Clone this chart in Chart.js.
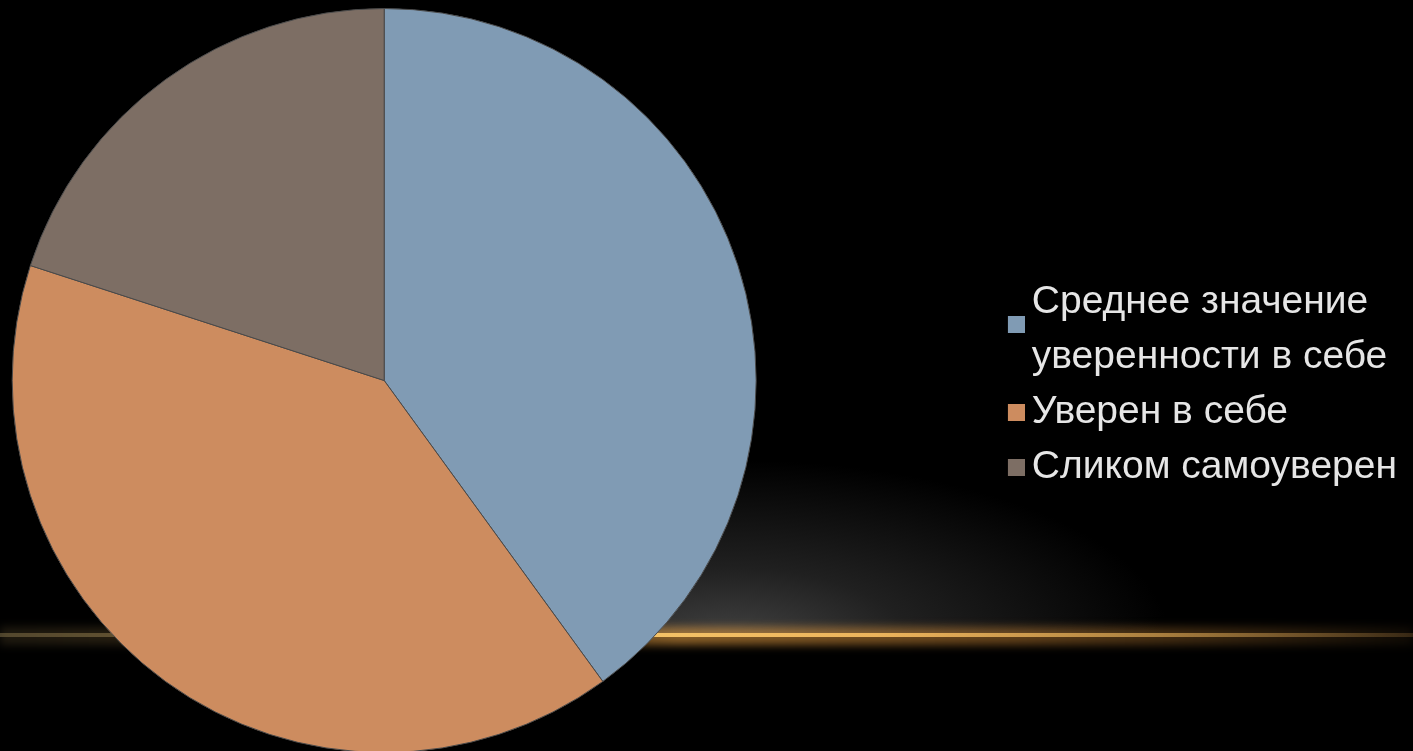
<!DOCTYPE html>
<html>
<head>
<meta charset="utf-8">
<script src="https://cdn.jsdelivr.net/npm/chart.js@4"></script>
<style>
    html, body {
        margin: 0;
        padding: 0;
        width: 1413px;
        height: 751px;
        overflow: hidden;
        background: #000;
    }
    #glow {
        position: absolute;
        left: 0;
        top: 0;
        width: 1413px;
        height: 634px;
        background: radial-gradient(ellipse 440px 180px at 730px 640px, rgba(66, 66, 66, 1) 0%, rgba(40, 40, 40, 0.8) 40%, rgba(0, 0, 0, 0) 100%);
    }
    #halo {
        position: absolute;
        left: 0;
        top: 627px;
        width: 1413px;
        height: 18px;
        filter: blur(4px);
        background: linear-gradient(to right, rgba(120, 100, 60, 0.25) 0%, rgba(150, 110, 50, 0.4) 35%, rgba(210, 145, 60, 0.65) 48%, rgba(190, 125, 50, 0.5) 72%, rgba(100, 70, 30, 0.15) 100%);
    }
    #line {
        position: absolute;
        left: 0;
        top: 633px;
        width: 1413px;
        height: 4px;
        filter: blur(0.7px);
        background: linear-gradient(to right, rgba(150, 130, 85, 0.45) 0%, rgba(170, 140, 80, 0.6) 30%, #f6c468 44%, #ecb45c 62%, rgba(205, 155, 78, 0.75) 82%, rgba(130, 95, 50, 0.35) 100%);
    }
    #wrap {
        position: absolute;
        left: -239px;
        top: 0;
        width: 1652px;
        height: 760px;
    }
</style>
</head>
<body>
<div id="glow"></div>
<div id="halo"></div>
<div id="line"></div>
<div id="wrap"><canvas id="pieChart"></canvas></div>
<script>
    // slice labels (multi-line where the legend wraps)
    const labels = [
        ['Среднее значение', 'уверенности в себе'],
        ['Уверен в себе'],
        ['Сликом самоуверен']
    ];
    const values = [40, 40, 20];
    const colors = ['#809bb4', '#cd8c5f', '#7d6e64'];

    // small square legend marker; the first one sits between its two lines
    function markerFor(color, drop) {
        const size = 17;
        const c = document.createElement('canvas');
        c.width = 30;
        c.height = size + 2 * drop;
        const g = c.getContext('2d');
        g.fillStyle = color;
        g.fillRect(13, 2 * drop, size, size);
        return c;
    }

    const ctx = document.getElementById('pieChart').getContext('2d');
    new Chart(ctx, {
        type: 'pie',
        data: {
            labels: labels,
            datasets: [{
                data: values,
                backgroundColor: colors,
                borderColor: '#4a4a4a',
                borderWidth: 1,
                hoverOffset: 0
            }]
        },
        options: {
            responsive: true,
            maintainAspectRatio: false,
            animation: false,
            layout: {
                padding: { top: 8, bottom: 7, left: 0, right: 6 }
            },
            plugins: {
                tooltip: { enabled: false },
                legend: {
                    position: 'right',
                    align: 'center',
                    title: {
                        display: true,
                        text: '',
                        padding: 0,
                        font: { size: 20, lineHeight: 1.25 }
                    },
                    labels: {
                        color: '#e6e6e6',
                        usePointStyle: true,
                        boxWidth: 5,
                        boxHeight: 16,
                        padding: 0,
                        font: {
                            family: '"Liberation Sans", Arial, sans-serif',
                            size: 39,
                            lineHeight: 55 / 39
                        },
                        generateLabels: function (chart) {
                            const items = Chart.overrides.pie.plugins.legend.labels.generateLabels(chart);
                            return items.map(function (item, i) {
                                item.pointStyle = markerFor(item.fillStyle, i === 0 ? 22 : 0);
                                return item;
                            });
                        }
                    }
                }
            }
        }
    });
</script>
</body>
</html>
